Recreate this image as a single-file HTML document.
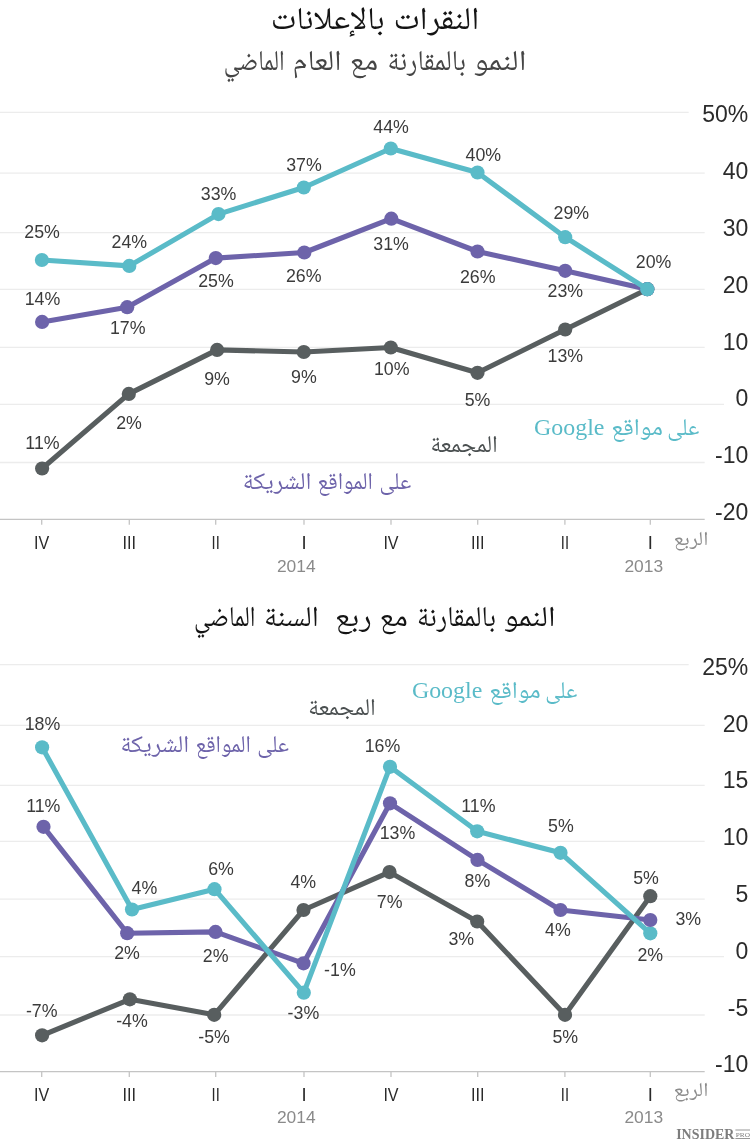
<!DOCTYPE html>
<html lang="ar">
<head>
<meta charset="utf-8">
<title>النقرات بالإعلانات</title>
<style>
html,body{margin:0;padding:0;background:#fff}
svg{display:block}
.lat{font-family:"Liberation Sans", "DejaVu Sans", sans-serif}
.ser{font-family:"Liberation Serif", "DejaVu Serif", serif}
.ara{font-family:"Noto Naskh Arabic", "Noto Naskh Arabic UI", "Scheherazade New", "Amiri", "DejaVu Sans", sans-serif}
.dl{font-size:17.8px;fill:#3b3b3b;text-anchor:middle}
.yl{font-size:23px;fill:#2b2b2b;text-anchor:end}
.rm{font-size:18.4px;fill:#2a2a2a;text-anchor:middle}
.yr{font-size:17.4px;fill:#8a8a8a;text-anchor:middle}
</style>
</head>
<body>
<svg width="750" height="1140" viewBox="0 0 750 1140">
<rect width="750" height="1140" fill="#ffffff"/>
<g id="titles">
<text class="ara" x="436.35" y="28.9" font-size="31.6" fill="#141414" text-anchor="middle" direction="rtl" textLength="85.9" lengthAdjust="spacingAndGlyphs">النقرات</text>
<text class="ara" x="327.65" y="28.9" font-size="31.6" fill="#141414" text-anchor="middle" direction="rtl" textLength="113.7" lengthAdjust="spacingAndGlyphs">بالإعلانات</text>
<text class="ara" x="500.0" y="70.2" font-size="28.7" fill="#454545" text-anchor="middle" direction="rtl" textLength="52.8" lengthAdjust="spacingAndGlyphs" style="font-feature-settings:&quot;rlig&quot; 0">النمو</text>
<text class="ara" x="426.7" y="70.2" font-size="28.7" fill="#454545" text-anchor="middle" direction="rtl" textLength="78.4" lengthAdjust="spacingAndGlyphs">بالمقارنة</text>
<text class="ara" x="363.95" y="70.2" font-size="28.7" fill="#454545" text-anchor="middle" direction="rtl" textLength="28.3" lengthAdjust="spacingAndGlyphs">مع</text>
<text class="ara" x="317.0" y="70.2" font-size="28.7" fill="#454545" text-anchor="middle" direction="rtl" textLength="48.8" lengthAdjust="spacingAndGlyphs">العام</text>
<text class="ara" x="254.1" y="70.2" font-size="28.7" fill="#454545" text-anchor="middle" direction="rtl" textLength="60.8" lengthAdjust="spacingAndGlyphs">الماضي</text>
<text class="ara" x="529.65" y="625.8" font-size="28.7" fill="#141414" text-anchor="middle" direction="rtl" textLength="51.7" lengthAdjust="spacingAndGlyphs" style="font-feature-settings:&quot;rlig&quot; 0">النمو</text>
<text class="ara" x="456.45" y="625.8" font-size="28.7" fill="#141414" text-anchor="middle" direction="rtl" textLength="78.9" lengthAdjust="spacingAndGlyphs">بالمقارنة</text>
<text class="ara" x="393.6" y="625.8" font-size="28.7" fill="#141414" text-anchor="middle" direction="rtl" textLength="28.2" lengthAdjust="spacingAndGlyphs">مع</text>
<text class="ara" x="353.2" y="625.8" font-size="28.7" fill="#141414" text-anchor="middle" direction="rtl" textLength="37.0" lengthAdjust="spacingAndGlyphs">ربع</text>
<text class="ara" x="291.4" y="625.8" font-size="28.7" fill="#141414" text-anchor="middle" direction="rtl" textLength="54.8" lengthAdjust="spacingAndGlyphs">السنة</text>
<text class="ara" x="224.7" y="625.8" font-size="28.7" fill="#141414" text-anchor="middle" direction="rtl" textLength="61.4" lengthAdjust="spacingAndGlyphs">الماضي</text>
</g>
<g id="chart1">
<g class="grid" stroke="#ececec" stroke-width="1.3">
<line x1="0" y1="112.4" x2="688.7" y2="112.4"/>
<line x1="0" y1="173.1" x2="704.7" y2="173.1"/>
<line x1="0" y1="232.7" x2="704.7" y2="232.7"/>
<line x1="0" y1="289.3" x2="704.7" y2="289.3"/>
<line x1="0" y1="347.4" x2="704.7" y2="347.4"/>
<line x1="0" y1="404.4" x2="724" y2="404.4"/>
<line x1="0" y1="462.5" x2="704.7" y2="462.5"/>
</g>
<g class="axis" stroke="#c4c4c4" stroke-width="1.3">
<line x1="0" y1="519.3" x2="704.7" y2="519.3"/>
<line x1="41.7" y1="519.3" x2="41.7" y2="524.8"/>
<line x1="129.3" y1="519.3" x2="129.3" y2="524.8"/>
<line x1="215.7" y1="519.3" x2="215.7" y2="524.8"/>
<line x1="304" y1="519.3" x2="304" y2="524.8"/>
<line x1="391" y1="519.3" x2="391" y2="524.8"/>
<line x1="477.7" y1="519.3" x2="477.7" y2="524.8"/>
<line x1="564.9" y1="519.3" x2="564.9" y2="524.8"/>
<line x1="650.3" y1="519.3" x2="650.3" y2="524.8"/>
</g>
<polyline points="42.1,468.5 128.8,393.9 217.1,349.9 303.8,352 390.8,347.5 477.5,372.8 565.2,329.5 647.3,289.2" fill="none" stroke="#585e5f" stroke-width="5.1" stroke-linejoin="round" stroke-linecap="round"/>
<g fill="#585e5f"><circle cx="42.1" cy="468.5" r="7.1"/><circle cx="128.8" cy="393.9" r="7.1"/><circle cx="217.1" cy="349.9" r="7.1"/><circle cx="303.8" cy="352" r="7.1"/><circle cx="390.8" cy="347.5" r="7.1"/><circle cx="477.5" cy="372.8" r="7.1"/><circle cx="565.2" cy="329.5" r="7.1"/><circle cx="647.3" cy="289.2" r="7.1"/></g>
<polyline points="42.1,321.9 127.2,307.2 215.8,258.1 304.3,252.5 391.3,218.7 477.5,251.5 565.2,270.8 647.3,289.2" fill="none" stroke="#6d63aa" stroke-width="5.1" stroke-linejoin="round" stroke-linecap="round"/>
<g fill="#6d63aa"><circle cx="42.1" cy="321.9" r="7.1"/><circle cx="127.2" cy="307.2" r="7.1"/><circle cx="215.8" cy="258.1" r="7.1"/><circle cx="304.3" cy="252.5" r="7.1"/><circle cx="391.3" cy="218.7" r="7.1"/><circle cx="477.5" cy="251.5" r="7.1"/><circle cx="565.2" cy="270.8" r="7.1"/><circle cx="647.3" cy="289.2" r="7.1"/></g>
<polyline points="41.9,260 129.3,265.9 218.5,214.1 303.8,187.5 390.8,148.5 477.5,172.5 565.2,237.2 647.3,289.2" fill="none" stroke="#5abbc8" stroke-width="5.1" stroke-linejoin="round" stroke-linecap="round"/>
<g fill="#5abbc8"><circle cx="41.9" cy="260" r="7.1"/><circle cx="129.3" cy="265.9" r="7.1"/><circle cx="218.5" cy="214.1" r="7.1"/><circle cx="303.8" cy="187.5" r="7.1"/><circle cx="390.8" cy="148.5" r="7.1"/><circle cx="477.5" cy="172.5" r="7.1"/><circle cx="565.2" cy="237.2" r="7.1"/><circle cx="647.3" cy="289.2" r="7.1"/></g>
<g class="lat">
<text class="dl" x="42.1" y="237.9">25%</text>
<text class="dl" x="129.3" y="247.5">24%</text>
<text class="dl" x="218.6" y="200">33%</text>
<text class="dl" x="304" y="170.7">37%</text>
<text class="dl" x="391.1" y="132.5">44%</text>
<text class="dl" x="483.3" y="160.8">40%</text>
<text class="dl" x="571.3" y="219.3">29%</text>
<text class="dl" x="653.6" y="268.1">20%</text>
<text class="dl" x="42.5" y="304.5">14%</text>
<text class="dl" x="127.7" y="333.9">17%</text>
<text class="dl" x="216" y="286.7">25%</text>
<text class="dl" x="303.7" y="282.1">26%</text>
<text class="dl" x="391.1" y="249.9">31%</text>
<text class="dl" x="477.7" y="282.7">26%</text>
<text class="dl" x="565.3" y="296.7">23%</text>
<text class="dl" x="42.5" y="448.5">11%</text>
<text class="dl" x="129" y="429.3">2%</text>
<text class="dl" x="217" y="384.5">9%</text>
<text class="dl" x="303.9" y="383.2">9%</text>
<text class="dl" x="391.7" y="374.7">10%</text>
<text class="dl" x="477.6" y="405.9">5%</text>
<text class="dl" x="565.3" y="362">13%</text>
<text class="yl" x="748.3" y="122.4">50%</text>
<text class="yl" x="748.3" y="179">40</text>
<text class="yl" x="748.3" y="236.3">30</text>
<text class="yl" x="748.3" y="292.7">20</text>
<text class="yl" x="748.3" y="349.6">10</text>
<text class="yl" x="748.3" y="406">0</text>
<text class="yl" x="748.3" y="463.3">-10</text>
<text class="yl" x="748.3" y="519.7">-20</text>
<text class="rm" x="41.7" y="549.4" textLength="15.2" lengthAdjust="spacingAndGlyphs">IV</text>
<text class="rm" x="129.3" y="549.4" textLength="13.6" lengthAdjust="spacingAndGlyphs">III</text>
<text class="rm" x="215.7" y="549.4" textLength="8.2" lengthAdjust="spacingAndGlyphs">II</text>
<text class="rm" x="304" y="549.4">I</text>
<text class="rm" x="391" y="549.4" textLength="15.2" lengthAdjust="spacingAndGlyphs">IV</text>
<text class="rm" x="477.7" y="549.4" textLength="13.6" lengthAdjust="spacingAndGlyphs">III</text>
<text class="rm" x="564.9" y="549.4" textLength="8.2" lengthAdjust="spacingAndGlyphs">II</text>
<text class="rm" x="650.3" y="549.4">I</text>
<text class="yr" x="296.3" y="572.1999999999999">2014</text>
<text class="yr" x="643.8" y="572.1999999999999">2013</text>
</g>
<text class="ara" x="690.9" y="544.8" font-size="19.6" fill="#8c8c8c" text-anchor="middle" direction="rtl" textLength="34.8" lengthAdjust="spacingAndGlyphs">الربع</text>
</g>
<g id="legend1">
<text class="ser" x="569.2" y="435.3" font-size="23" fill="#5abbc8" text-anchor="middle" textLength="70.4" lengthAdjust="spacingAndGlyphs">Google</text>
<text class="ara" x="683.3" y="435.3" font-size="24" fill="#5abbc8" text-anchor="middle" direction="rtl" textLength="32.0" lengthAdjust="spacingAndGlyphs">على</text>
<text class="ara" x="637.1" y="435.3" font-size="24" fill="#5abbc8" text-anchor="middle" direction="rtl" textLength="51.6" lengthAdjust="spacingAndGlyphs">مواقع</text>
<text class="ara" x="464.1" y="452" font-size="24" fill="#4a4f50" text-anchor="middle" direction="rtl" textLength="67.4" lengthAdjust="spacingAndGlyphs" style="font-feature-settings:&quot;rlig&quot; 0">المجمعة</text>
<text class="ara" x="395.25" y="488.9" font-size="24" fill="#6d63aa" text-anchor="middle" direction="rtl" textLength="31.7" lengthAdjust="spacingAndGlyphs">على</text>
<text class="ara" x="345.25" y="488.9" font-size="24" fill="#6d63aa" text-anchor="middle" direction="rtl" textLength="55.3" lengthAdjust="spacingAndGlyphs">المواقع</text>
<text class="ara" x="277.0" y="488.9" font-size="24" fill="#6d63aa" text-anchor="middle" direction="rtl" textLength="68.6" lengthAdjust="spacingAndGlyphs">الشريكة</text>
</g>
<g id="chart2">
<g class="grid" stroke="#ececec" stroke-width="1.3">
<line x1="0" y1="664.7" x2="688.7" y2="664.7"/>
<line x1="0" y1="725.4" x2="704.7" y2="725.4"/>
<line x1="0" y1="785.3" x2="704.7" y2="785.3"/>
<line x1="0" y1="841.4" x2="704.7" y2="841.4"/>
<line x1="0" y1="899.2" x2="704.7" y2="899.2"/>
<line x1="0" y1="956.7" x2="724" y2="956.7"/>
<line x1="0" y1="1015" x2="704.7" y2="1015"/>
</g>
<g class="axis" stroke="#c4c4c4" stroke-width="1.3">
<line x1="0" y1="1071.6" x2="704.7" y2="1071.6"/>
<line x1="41.7" y1="1071.6" x2="41.7" y2="1077.1"/>
<line x1="129.3" y1="1071.6" x2="129.3" y2="1077.1"/>
<line x1="215.7" y1="1071.6" x2="215.7" y2="1077.1"/>
<line x1="304" y1="1071.6" x2="304" y2="1077.1"/>
<line x1="391" y1="1071.6" x2="391" y2="1077.1"/>
<line x1="477.7" y1="1071.6" x2="477.7" y2="1077.1"/>
<line x1="564.9" y1="1071.6" x2="564.9" y2="1077.1"/>
<line x1="650.3" y1="1071.6" x2="650.3" y2="1077.1"/>
</g>
<polyline points="42.1,1035.3 129.9,999.3 214.2,1014.8 303.5,910 389.5,872.1 477.2,921.5 565,1014.8 650.3,896.2" fill="none" stroke="#585e5f" stroke-width="5.1" stroke-linejoin="round" stroke-linecap="round"/>
<g fill="#585e5f"><circle cx="42.1" cy="1035.3" r="7.1"/><circle cx="129.9" cy="999.3" r="7.1"/><circle cx="214.2" cy="1014.8" r="7.1"/><circle cx="303.5" cy="910" r="7.1"/><circle cx="389.5" cy="872.1" r="7.1"/><circle cx="477.2" cy="921.5" r="7.1"/><circle cx="565" cy="1014.8" r="7.1"/><circle cx="650.3" cy="896.2" r="7.1"/></g>
<g fill="#5abbc8"><circle cx="42.1" cy="747.3" r="7.1"/><circle cx="132" cy="909.5" r="7.1"/><circle cx="214.5" cy="889.2" r="7.1"/><circle cx="303.8" cy="992.7" r="7.1"/><circle cx="390" cy="766.8" r="7.1"/><circle cx="477.2" cy="831.3" r="7.1"/><circle cx="560.5" cy="852.8" r="7.1"/><circle cx="650.3" cy="933.3" r="7.1"/></g>
<polyline points="43.5,826.8 127.2,933.2 215.5,931.9 303.5,963.3 390,803.3 477.5,859.9 560.5,910 650.3,920" fill="none" stroke="#6d63aa" stroke-width="5.1" stroke-linejoin="round" stroke-linecap="round"/>
<g fill="#6d63aa"><circle cx="43.5" cy="826.8" r="7.1"/><circle cx="127.2" cy="933.2" r="7.1"/><circle cx="215.5" cy="931.9" r="7.1"/><circle cx="303.5" cy="963.3" r="7.1"/><circle cx="390" cy="803.3" r="7.1"/><circle cx="477.5" cy="859.9" r="7.1"/><circle cx="560.5" cy="910" r="7.1"/><circle cx="650.3" cy="920" r="7.1"/></g>
<polyline points="42.1,747.3 132,909.5 214.5,889.2 303.8,992.7 390,766.8 477.2,831.3 560.5,852.8 650.3,933.3" fill="none" stroke="#5abbc8" stroke-width="5.1" stroke-linejoin="round" stroke-linecap="round"/>
<g class="lat">
<text class="dl" x="42.5" y="730">18%</text>
<text class="dl" x="43.3" y="811.9">11%</text>
<text class="dl" x="144.4" y="893.5">4%</text>
<text class="dl" x="127" y="958.5">2%</text>
<text class="dl" x="41.7" y="1017.2">-7%</text>
<text class="dl" x="132" y="1026.8">-4%</text>
<text class="dl" x="221" y="874.5">6%</text>
<text class="dl" x="215.7" y="961.5">2%</text>
<text class="dl" x="214.1" y="1042.5">-5%</text>
<text class="dl" x="303.3" y="888.1">4%</text>
<text class="dl" x="339.9" y="975.9">-1%</text>
<text class="dl" x="303.4" y="1019.3">-3%</text>
<text class="dl" x="382.5" y="751.9">16%</text>
<text class="dl" x="397.5" y="838.8">13%</text>
<text class="dl" x="389.7" y="908.1">7%</text>
<text class="dl" x="478.4" y="811.9">11%</text>
<text class="dl" x="477.4" y="886.5">8%</text>
<text class="dl" x="461.3" y="945.2">3%</text>
<text class="dl" x="560.9" y="832.2">5%</text>
<text class="dl" x="557.9" y="935.9">4%</text>
<text class="dl" x="565.3" y="1042.5">5%</text>
<text class="dl" x="646" y="884.1">5%</text>
<text class="dl" x="688.3" y="925.2">3%</text>
<text class="dl" x="650.3" y="961.2">2%</text>
<text class="yl" x="748.3" y="674.7">25%</text>
<text class="yl" x="748.3" y="731.7">20</text>
<text class="yl" x="748.3" y="788.3">15</text>
<text class="yl" x="748.3" y="845.3">10</text>
<text class="yl" x="748.3" y="902.4">5</text>
<text class="yl" x="748.3" y="958.7">0</text>
<text class="yl" x="748.3" y="1015.7">-5</text>
<text class="yl" x="748.3" y="1072">-10</text>
<text class="rm" x="41.7" y="1100.6" textLength="15.2" lengthAdjust="spacingAndGlyphs">IV</text>
<text class="rm" x="129.3" y="1100.6" textLength="13.6" lengthAdjust="spacingAndGlyphs">III</text>
<text class="rm" x="215.7" y="1100.6" textLength="8.2" lengthAdjust="spacingAndGlyphs">II</text>
<text class="rm" x="304" y="1100.6">I</text>
<text class="rm" x="391" y="1100.6" textLength="15.2" lengthAdjust="spacingAndGlyphs">IV</text>
<text class="rm" x="477.7" y="1100.6" textLength="13.6" lengthAdjust="spacingAndGlyphs">III</text>
<text class="rm" x="564.9" y="1100.6" textLength="8.2" lengthAdjust="spacingAndGlyphs">II</text>
<text class="rm" x="650.3" y="1100.6">I</text>
<text class="yr" x="296.3" y="1123.3999999999999">2014</text>
<text class="yr" x="643.8" y="1123.3999999999999">2013</text>
</g>
<text class="ara" x="690.9" y="1096.0" font-size="19.6" fill="#8c8c8c" text-anchor="middle" direction="rtl" textLength="34.8" lengthAdjust="spacingAndGlyphs">الربع</text>
</g>
<g id="legend2">
<text class="ser" x="447.1" y="698.1" font-size="23" fill="#5abbc8" text-anchor="middle" textLength="70.4" lengthAdjust="spacingAndGlyphs">Google</text>
<text class="ara" x="561.2" y="698.1" font-size="24" fill="#5abbc8" text-anchor="middle" direction="rtl" textLength="32.0" lengthAdjust="spacingAndGlyphs">على</text>
<text class="ara" x="515.0" y="698.1" font-size="24" fill="#5abbc8" text-anchor="middle" direction="rtl" textLength="51.6" lengthAdjust="spacingAndGlyphs">مواقع</text>
<text class="ara" x="342.0" y="714.8" font-size="24" fill="#4a4f50" text-anchor="middle" direction="rtl" textLength="67.4" lengthAdjust="spacingAndGlyphs" style="font-feature-settings:&quot;rlig&quot; 0">المجمعة</text>
<text class="ara" x="273.15" y="751.7" font-size="24" fill="#6d63aa" text-anchor="middle" direction="rtl" textLength="31.7" lengthAdjust="spacingAndGlyphs">على</text>
<text class="ara" x="223.15" y="751.7" font-size="24" fill="#6d63aa" text-anchor="middle" direction="rtl" textLength="55.3" lengthAdjust="spacingAndGlyphs">المواقع</text>
<text class="ara" x="154.9" y="751.7" font-size="24" fill="#6d63aa" text-anchor="middle" direction="rtl" textLength="68.6" lengthAdjust="spacingAndGlyphs">الشريكة</text>
</g>
<g id="logo" fill="#7d7d7d">
<text class="ser" x="676.2" y="1139.4" font-size="13.6" font-weight="bold" textLength="58.2" lengthAdjust="spacingAndGlyphs">INSIDER</text>
<text class="ser" x="735.8" y="1136.6" font-size="7" textLength="14.2" lengthAdjust="spacingAndGlyphs">PRO</text>
<rect x="735.4" y="1129.6" width="14.6" height="0.8"/><rect x="735.4" y="1138" width="14.6" height="0.8"/>
</g>
</svg>
</body>
</html>
